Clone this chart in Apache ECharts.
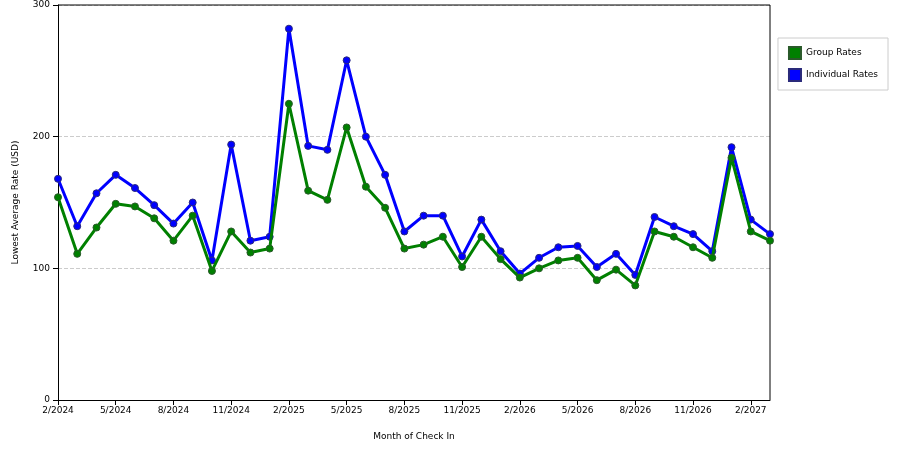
<!DOCTYPE html>
<html><head><meta charset="utf-8">
<script src="https://cdn.jsdelivr.net/npm/echarts@6/dist/echarts.min.js"></script>
<style>html,body{margin:0;background:#fff}#c{width:900px;height:450px}</style>
</head><body><div id="c"></div>
<script>
const categories = ["2/2024","3/2024","4/2024","5/2024","6/2024","7/2024","8/2024","9/2024","10/2024","11/2024","12/2024","1/2025","2/2025","3/2025","4/2025","5/2025","6/2025","7/2025","8/2025","9/2025","10/2025","11/2025","12/2025","1/2026","2/2026","3/2026","4/2026","5/2026","6/2026","7/2026","8/2026","9/2026","10/2026","11/2026","12/2026","1/2027","2/2027","7/2027"];
const groupRates = [154,111,131,149,147,138,121,140,98,128,112,115,225,159,152,207,162,146,115,118,124,101,124,107,93,100,106,108,91,99,87,128,124,116,108,184,128,121];
const individualRates = [168,132,157,171,161,148,134,150,106,194,121,124,282,193,190,258,200,171,128,140,140,109,137,113,96,108,116,117,101,111,95,139,132,126,113,192,137,126];
const yTicks = [0,100,200,300];
const font = {fontFamily:'DejaVu Sans',fontSize:9,color:'#000'};
const chart = echarts.init(document.getElementById('c'));
const ser = (name,data,color,border)=>({name,type:'line',data,symbol:'circle',symbolSize:7,
  lineStyle:{color,width:3},itemStyle:{color,borderColor:border,borderWidth:1},z:name==='Group Rates'?3:2});
chart.setOption({
  animation:false,
  grid:{left:58,right:130,top:5,bottom:50},
  legend:{orient:'vertical',right:12,top:38,padding:[8,10],itemGap:8,backgroundColor:'#fff',borderColor:'#ccc',borderWidth:1,
    icon:'rect',itemWidth:12,itemHeight:12,textStyle:font,data:['Group Rates','Individual Rates']},
  xAxis:{type:'category',data:categories,boundaryGap:false,name:'Month of Check In',nameLocation:'middle',nameGap:32,nameTextStyle:font,
    axisLine:{lineStyle:{color:'#000'}},axisTick:{interval:(i)=>i%3===0||i===categories.length-1,lineStyle:{color:'#000'}},
    axisLabel:Object.assign({interval:(i)=>i%3===0||i===categories.length-1,margin:6},font)},
  yAxis:{type:'value',min:0,max:300,interval:100,name:'Lowest Average Rate (USD)',nameLocation:'middle',nameGap:38,nameTextStyle:font,
    axisLine:{show:true,lineStyle:{color:'#000'}},axisTick:{show:true,lineStyle:{color:'#000'}},
    axisLabel:Object.assign({formatter:v=>yTicks.includes(v)?String(v):''},font),
    splitLine:{lineStyle:{type:'dashed',color:'#ccc'}}},
  series:[ser('Group Rates',groupRates,'#008000','#2a5a2a'),ser('Individual Rates',individualRates,'#0000ff','#2a2a7a')]
});
// right frame
chart.setOption({graphic:[{type:'line',shape:{x1:770,y1:5,x2:770,y2:400},style:{stroke:'#000',lineWidth:1}},
  {type:'line',shape:{x1:58,y1:5,x2:770,y2:5},style:{stroke:'#000',lineWidth:1}}]});
</script></body></html>
